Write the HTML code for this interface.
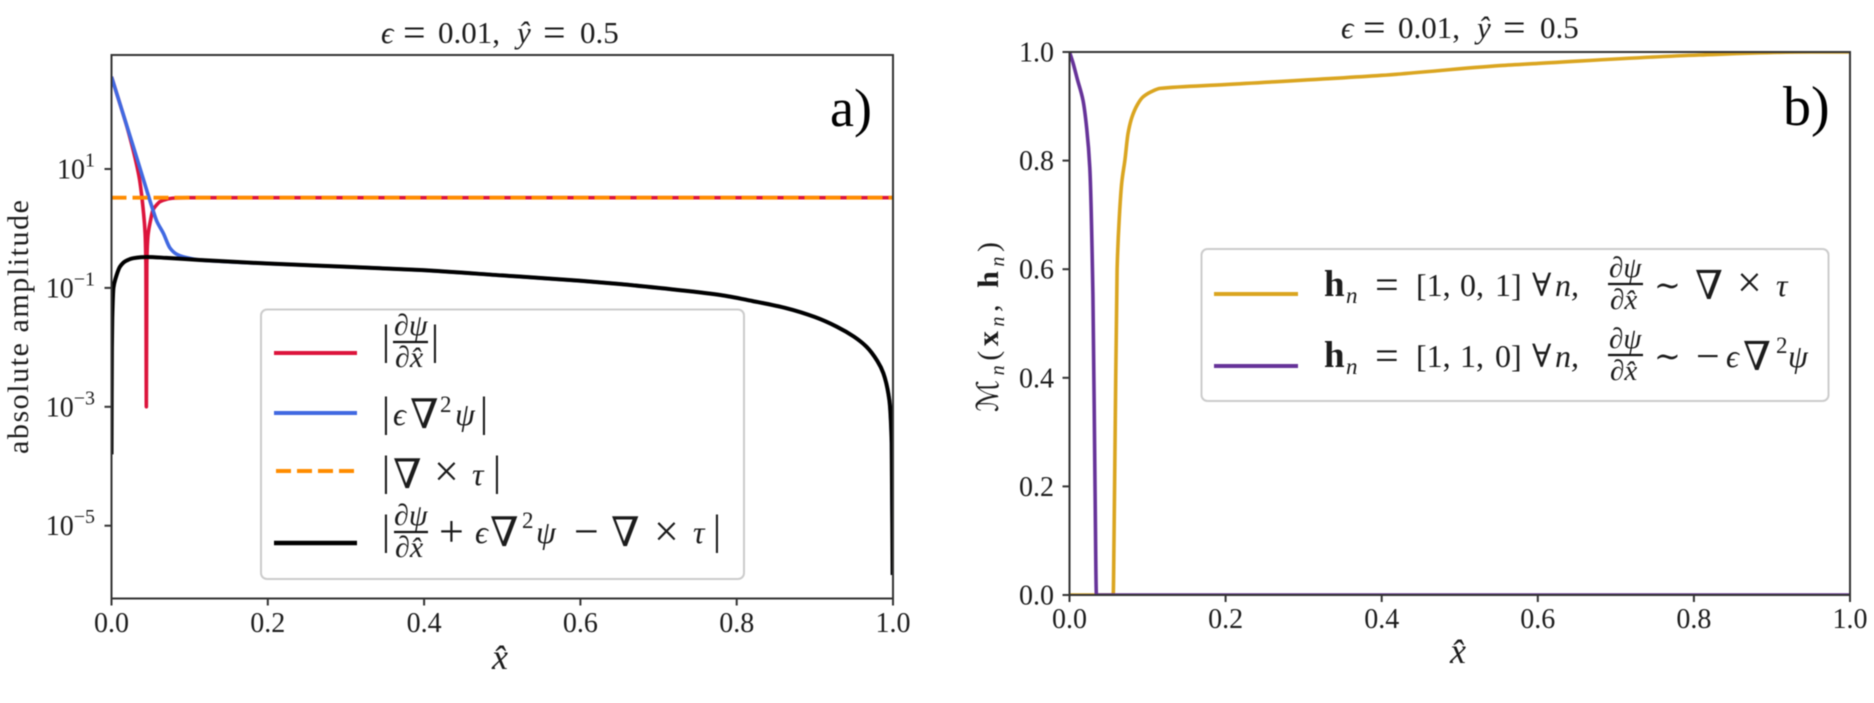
<!DOCTYPE html>
<html lang="en">
<head>
<meta charset="utf-8">
<title>Amplitude and mask comparison</title>
<style>
html,body{margin:0;padding:0;background:#fff;width:1874px;height:703px;overflow:hidden}
svg{display:block;filter:blur(0.45px)}
text{font-family:"Liberation Serif","DejaVu Serif",serif;fill:#1c1c1c}
.i{font-style:italic}
.b{font-weight:bold}
.fr{stroke:#111;stroke-width:2.2}
</style>
</head>
<body>
<svg id="figure" xmlns="http://www.w3.org/2000/svg" width="1874" height="703" viewBox="0 0 1874 703">
<defs>
<clipPath id="clip-a"><rect x="111.5" y="55" width="781.5" height="543.5"/></clipPath>
<clipPath id="clip-b"><rect x="1069.5" y="52" width="780.5" height="543"/></clipPath>
</defs>
<g id="plot-a"></g>
<g id="plot-b"></g>

<!-- panel a titles -->
<g font-size="31">
<text x="381" y="43" class="i">ϵ</text><text x="403" y="46" font-size="40">=</text><text x="438" y="43">0.01,</text>
<text x="517" y="43" class="i">ŷ</text><text x="543" y="46" font-size="40">=</text><text x="580" y="43">0.5</text>
</g>
<text x="830" y="126" font-size="54" style="fill:#000">a)</text>
<text transform="translate(28,327) rotate(-90)" text-anchor="middle" font-size="30" textLength="254" lengthAdjust="spacing">absolute amplitude</text>
<text x="500" y="669" text-anchor="middle" font-size="36" class="i">x̂</text>

<!-- panel b titles -->
<g font-size="31">
<text x="1341" y="38" class="i">ϵ</text><text x="1363" y="41" font-size="40">=</text><text x="1398" y="38">0.01,</text>
<text x="1477" y="38" class="i">ŷ</text><text x="1503" y="41" font-size="40">=</text><text x="1540" y="38">0.5</text>
</g>
<text x="1783" y="125" font-size="56" style="fill:#000">b)</text>
<text transform="translate(998,412) rotate(-90)" font-size="30" textLength="170" lengthAdjust="spacing">ℳ<tspan class="i" font-size="20" dy="6">n</tspan><tspan dy="-6">(</tspan><tspan class="b">x</tspan><tspan class="i" font-size="20" dy="6">n</tspan><tspan dy="-6">, </tspan><tspan class="b">h</tspan><tspan class="i" font-size="20" dy="6">n</tspan><tspan dy="-6">)</tspan></text>
<text x="1458" y="663" text-anchor="middle" font-size="36" class="i">x̂</text>

<!-- legend a -->
<g>
<rect x="261" y="309.5" width="483" height="269.5" rx="6" fill="#fff" fill-opacity="0.85" stroke="#ccc" stroke-width="2"/>
<line x1="274" x2="357" y1="353" y2="353" stroke="#DC143C" stroke-width="4"/>
<line x1="274" x2="357" y1="413" y2="413" stroke="#4169E1" stroke-width="4"/>
<line x1="276" x2="356" y1="471" y2="471" stroke="#FF8C00" stroke-width="4" stroke-dasharray="15 6"/>
<line x1="274" x2="357" y1="543" y2="543" stroke="#000" stroke-width="4.5"/>

<g>
<text x="386" y="354" font-size="42" text-anchor="middle">|</text>
<text x="394" y="335" font-size="30" class="i">∂ψ</text>
<line class="fr" x1="393" x2="428" y1="342" y2="342"/>
<text x="395" y="367" font-size="30" class="i">∂x̂</text>
<text x="435" y="354" font-size="42" text-anchor="middle">|</text>
</g>
<g>
<text x="386" y="426" font-size="42" text-anchor="middle">|</text>
<text x="393" y="425" font-size="32" class="i">ϵ</text>
<text x="410" y="428" font-size="41">∇</text>
<text x="440" y="412" font-size="23">2</text>
<text x="455" y="425" font-size="32" class="i">ψ</text>
<text x="484" y="426" font-size="42" text-anchor="middle">|</text>
</g>
<g>
<text x="386" y="485" font-size="42" text-anchor="middle">|</text>
<text x="393" y="488" font-size="41">∇</text>
<text x="434" y="486" font-size="44">×</text>
<text x="472" y="485" font-size="32" class="i">τ</text>
<text x="497" y="485" font-size="42" text-anchor="middle">|</text>
</g>
<g>
<text x="386" y="544" font-size="42" text-anchor="middle">|</text>
<text x="394" y="525" font-size="30" class="i">∂ψ</text>
<line class="fr" x1="394" x2="428" y1="532" y2="532"/>
<text x="395" y="557" font-size="30" class="i">∂x̂</text>
<text x="439" y="546" font-size="44">+</text>
<text x="475" y="543" font-size="32" class="i">ϵ</text>
<text x="490" y="546" font-size="41">∇</text>
<text x="522" y="528" font-size="23">2</text>
<text x="536" y="543" font-size="32" class="i">ψ</text>
<text x="574" y="546" font-size="44">−</text>
<text x="611" y="546" font-size="41">∇</text>
<text x="654" y="546" font-size="44">×</text>
<text x="693" y="543" font-size="32" class="i">τ</text>
<text x="717" y="544" font-size="42" text-anchor="middle">|</text>
</g>
</g>

<!-- legend b -->
<g>
<rect x="1201.5" y="249" width="627" height="152" rx="6" fill="#fff" fill-opacity="0.85" stroke="#ccc" stroke-width="2"/>
<line x1="1214" x2="1298" y1="294" y2="294" stroke="#DAA520" stroke-width="4"/>
<line x1="1214" x2="1298" y1="366" y2="366" stroke="#663399" stroke-width="4"/>

<g font-size="32">
<text x="1324" y="296" class="b" font-size="37">h</text><text x="1346" y="303" font-size="23" class="i">n</text>
<text x="1375" y="299" font-size="42">=</text>
<text x="1416" y="296">[1,</text><text x="1460" y="296">0,</text><text x="1495" y="296">1]</text>
<text x="1532" y="296">∀</text><text x="1555" y="296" class="i">n,</text>
<text x="1609" y="277" font-size="29" class="i">∂ψ</text>
<line class="fr" x1="1608" x2="1643" y1="284" y2="284"/>
<text x="1610" y="309" font-size="29" class="i">∂x̂</text>
<text x="1654" y="296">∼</text>
<text x="1695" y="299" font-size="40">∇</text>
<text x="1737" y="297" font-size="44">×</text>
<text x="1776" y="296" class="i">τ</text>
</g>
<g font-size="32">
<text x="1324" y="367" class="b" font-size="37">h</text><text x="1346" y="374" font-size="23" class="i">n</text>
<text x="1375" y="370" font-size="42">=</text>
<text x="1416" y="367">[1,</text><text x="1460" y="367">1,</text><text x="1495" y="367">0]</text>
<text x="1532" y="367">∀</text><text x="1555" y="367" class="i">n,</text>
<text x="1609" y="348" font-size="29" class="i">∂ψ</text>
<line class="fr" x1="1608" x2="1643" y1="355" y2="355"/>
<text x="1610" y="380" font-size="29" class="i">∂x̂</text>
<text x="1654" y="367">∼</text>
<text x="1696" y="370" font-size="42">−</text>
<text x="1726" y="367" class="i">ϵ</text>
<text x="1743" y="370" font-size="40">∇</text>
<text x="1776" y="353" font-size="23">2</text>
<text x="1788" y="367" class="i">ψ</text>
</g>
</g>
</svg>

<script>
// Panel a: x positions and log10(absolute amplitude)
const dpsiX = [0,0.01,0.02,0.0277,0.033,0.036,0.041,0.043,0.044,0.0446,0.0452,0.046,0.047,0.05,0.053,0.058,0.062,0.07,0.079,0.1,1];
const dpsiLog = [2.55,2.13,1.7,1.32,1.02,0.815,0.26,-0.08,-0.6,-3,-0.6,-0.25,-0.08,0.14,0.31,0.4,0.45,0.49,0.51,0.517,0.517];
const lapX = [0,0.0277,0.04,0.053,0.058,0.0663,0.0749,0.083,0.0915,0.113,0.2,0.3,0.395,0.5,0.6,0.65,0.7,0.779,0.82,0.864,0.9,0.928,0.95,0.966,0.98,0.9877,0.9953,0.9983,0.9995];
const lapLog = [2.55,1.387,0.86,0.31,0.12,-0.08,-0.33,-0.43,-0.475,-0.53,-0.59,-0.645,-0.7,-0.79,-0.88,-0.934,-1,-1.119,-1.22,-1.343,-1.49,-1.652,-1.82,-1.989,-2.23,-2.436,-2.886,-3.61,-5.83];
const curlX = [0,1];
const curlLog = [0.517,0.517];
const resX = [0,0.0002,0.0005,0.001,0.0025,0.005,0.011,0.018,0.028,0.045,0.07,0.113,0.2,0.3,0.395,0.5,0.6,0.65,0.7,0.779,0.82,0.864,0.9,0.928,0.95,0.966,0.98,0.9877,0.9953,0.9983,0.9995];
const resLog = [-3.8,-2.8,-2,-1.5,-1,-0.85,-0.64,-0.55,-0.5,-0.48,-0.495,-0.53,-0.59,-0.645,-0.7,-0.79,-0.88,-0.934,-1,-1.119,-1.22,-1.343,-1.49,-1.652,-1.82,-1.989,-2.23,-2.436,-2.886,-3.61,-5.83];
const yTickExpA = [1,-1,-3,-5];

// Panel b: mask values
const goldX = [0,0.056,0.057,0.0585,0.061,0.064,0.067,0.071,0.075,0.08,0.087,0.094,0.105,0.116,0.2,0.4,0.552,0.6,0.807,0.95,1];
const goldY = [0,0,0.1,0.3,0.6,0.7,0.76,0.801,0.85,0.88,0.903,0.917,0.927,0.933,0.94,0.957,0.975,0.979,0.9945,1,1];
const purpleX = [0,0.0045,0.01,0.0173,0.022,0.026,0.03,0.0327,0.0345,0.04,1];
const purpleY = [1,0.98,0.95,0.911,0.86,0.787,0.553,0.2,0,0,0];
const xTicks = [0,0.2,0.4,0.6,0.8,1];
const xTickLabels = ['0.0','0.2','0.4','0.6','0.8','1.0'];
const yTicksB = [0,0.2,0.4,0.6,0.8,1];
const yTickLabelsB = ['0.0','0.2','0.4','0.6','0.8','1.0'];

const NS = 'http://www.w3.org/2000/svg';
function mk(tag, parent) {
  const e = document.createElementNS(NS, tag);
  parent.appendChild(e);
  return e;
}
const xA = v => 111.5 + v * 781.5;
const yA = v => 169 + (1 - v) * 59.45;
const xB = v => 1069.5 + v * 780.5;
const yB = v => 595 - v * 543;
// Monotone cubic path through the mapped data points
function pathOf(xs, ys, sx, sy) {
  const px = xs.map(sx), py = ys.map(sy), n = px.length;
  const d = [], m = new Array(n);
  for (let i = 0; i < n - 1; i++) d.push((py[i + 1] - py[i]) / (px[i + 1] - px[i]));
  m[0] = d[0];
  m[n - 1] = d[n - 2];
  for (let i = 1; i < n - 1; i++) {
    m[i] = d[i - 1] * d[i] <= 0 ? 0 : 2 * d[i - 1] * d[i] / (d[i - 1] + d[i]);
  }
  let out = 'M' + px[0].toFixed(2) + ' ' + py[0].toFixed(2);
  for (let i = 0; i < n - 1; i++) {
    const h = (px[i + 1] - px[i]) / 3;
    out += ' C' + (px[i] + h).toFixed(2) + ' ' + (py[i] + m[i] * h).toFixed(2) + ' ' +
      (px[i + 1] - h).toFixed(2) + ' ' + (py[i + 1] - m[i + 1] * h).toFixed(2) + ' ' +
      px[i + 1].toFixed(2) + ' ' + py[i + 1].toFixed(2);
  }
  return out;
}
function series(parent, xs, ys, sx, sy, color, width, clip, dash) {
  const p = mk('path', parent);
  p.setAttribute('d', pathOf(xs, ys, sx, sy));
  p.setAttribute('fill', 'none');
  p.setAttribute('stroke', color);
  p.setAttribute('stroke-width', width);
  p.setAttribute('stroke-linejoin', 'round');
  p.setAttribute('clip-path', 'url(#' + clip + ')');
  if (dash) p.setAttribute('stroke-dasharray', dash);
  return p;
}
function seg(parent, x1, y1, x2, y2) {
  const l = mk('line', parent);
  l.setAttribute('x1', x1);
  l.setAttribute('y1', y1);
  l.setAttribute('x2', x2);
  l.setAttribute('y2', y2);
  l.setAttribute('stroke', '#333');
  l.setAttribute('stroke-width', 2);
  return l;
}
function frame(parent, l, t, r, b) {
  const f = mk('rect', parent);
  
  
  f.setAttribute('x', l);
  f.setAttribute('y', t);
  f.setAttribute('width', r - l);
  f.setAttribute('height', b - t);
  f.setAttribute('fill', 'none');
  f.setAttribute('stroke', '#333');
  f.setAttribute('stroke-width', 2);
}
function xAxis(parent, sx, base, labelY) {
  xTicks.forEach((v, i) => {
    const t = seg(parent, sx(v), base, sx(v), base + 7);
    
    
    const s = mk('text', parent);
    
    
    s.setAttribute('x', sx(v));
    s.setAttribute('y', labelY);
    s.setAttribute('text-anchor', 'middle');
    s.setAttribute('font-size', 28);
    s.textContent = xTickLabels[i];
  });
}

const a = document.getElementById('plot-a');
const sDpsi = series(a, dpsiX, dpsiLog, xA, yA, '#DC143C', 3.6, 'clip-a');


const sLap = series(a, lapX, lapLog, xA, yA, '#4169E1', 3.6, 'clip-a');


const sCurl = series(a, curlX, curlLog, xA, yA, '#FF8C00', 3.8, 'clip-a', '15 6');


const sRes = series(a, resX, resLog, xA, yA, '#000', 4, 'clip-a');


frame(a, 111.5, 55, 893, 598.5);
xAxis(a, xA, 598.5, 632);
yTickExpA.forEach(v => {
  const t = seg(a, 104.5, yA(v), 111.5, yA(v));
  
  
  const s = mk('text', a);
  
  
  s.setAttribute('x', 95);
  s.setAttribute('y', yA(v) + 9.5);
  s.setAttribute('text-anchor', 'end');
  s.setAttribute('font-size', 28);
  s.appendChild(document.createTextNode('10'));
  const e = mk('tspan', s);
  e.setAttribute('dy', -12);
  e.setAttribute('font-size', 20);
  e.textContent = String(v).replace('-', '−');
});

const b = document.getElementById('plot-b');
const sGold = series(b, goldX, goldY, xB, yB, '#DAA520', 3.6, 'clip-b');


const sPurple = series(b, purpleX, purpleY, xB, yB, '#663399', 3.6, 'clip-b');


frame(b, 1069.5, 52, 1850, 595);
xAxis(b, xB, 595, 628);
yTicksB.forEach((v, i) => {
  const t = seg(b, 1062.5, yB(v), 1069.5, yB(v));
  
  
  const s = mk('text', b);
  
  
  s.setAttribute('x', 1054);
  s.setAttribute('y', yB(v) + 9.5);
  s.setAttribute('text-anchor', 'end');
  s.setAttribute('font-size', 28);
  s.textContent = yTickLabelsB[i];
});
</script>
</body>
</html>
